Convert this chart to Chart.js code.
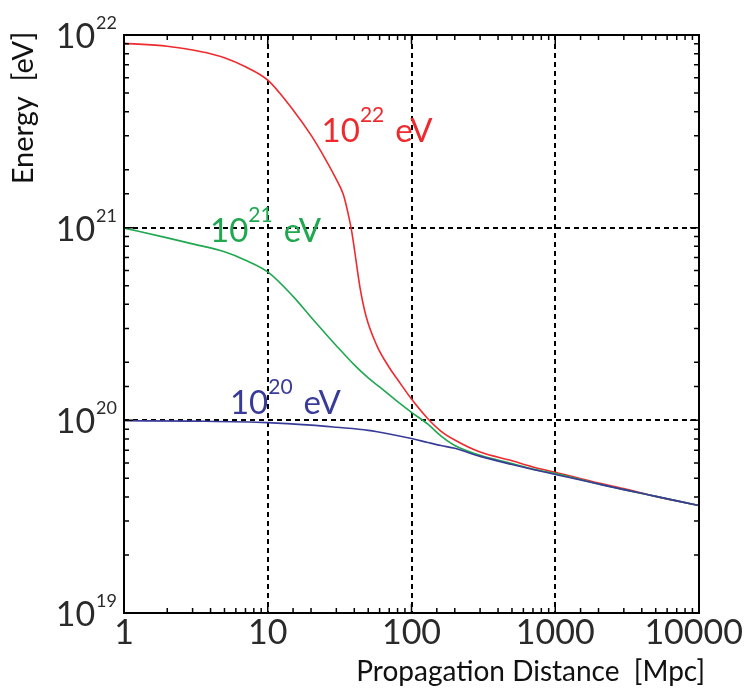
<!DOCTYPE html>
<html><head><meta charset="utf-8">
<script src="https://cdn.jsdelivr.net/npm/chart.js@4"></script>
<style>html,body{margin:0;padding:0;background:#fff;}#c{display:block;}</style>
</head><body>
<canvas id="c" width="745" height="689"></canvas>
<script>
// ---- data ----
const blueDistance = [1, 3, 10, 20, 30, 50, 70, 100, 130, 160, 200, 300, 500, 700, 1000, 2000, 3000, 5000, 10000];
const blueEnergy = [9.95e19, 9.9e19, 9.73e19, 9.44e19, 9.2e19, 8.87e19, 8.5e19, 8.04e19, 7.67e19, 7.4e19, 7.16e19, 6.5e19, 5.9e19, 5.56e19, 5.24e19, 4.67e19, 4.37e19, 4.03e19, 3.61e19];

const greenDistance = [1, 2, 3, 5, 7, 10, 15, 20, 25, 30, 40, 50, 60, 80, 100, 130, 160, 200, 300, 500, 700, 1000, 2000, 3000, 5000, 10000];
const greenEnergy = [9.95e20, 8.85e20, 8.24e20, 7.5e20, 6.78e20, 5.89e20, 4.4e20, 3.43e20, 2.84e20, 2.44e20, 1.94e20, 1.66e20, 1.49e20, 1.25e20, 1.10e20, 9.55e19, 8.3e19, 7.4e19, 6.58e19, 5.97e19, 5.58e19, 5.3e19, 4.67e19, 4.37e19, 4.03e19, 3.61e19];

const redDistance = [1, 2, 3, 4, 5, 7, 10, 15, 20, 25, 30, 33.6, 36.3, 38.4, 40.4, 43.8, 48.3, 57.3, 70, 80, 100, 130, 160, 200, 300, 500, 700, 1000, 2000, 3000, 5000, 10000];
const redEnergy = [9.05e21, 8.75e21, 8.36e21, 8.0e21, 7.62e21, 6.84e21, 5.83e21, 4.08e21, 3.02e21, 2.29e21, 1.78e21, 1.48e21, 1.175e21, 9.55e20, 7.41e20, 4.9e20, 3.47e20, 2.45e20, 1.88e20, 1.63e20, 1.29e20, 1.02e20, 8.8e19, 7.9e19, 6.84e19, 6.17e19, 5.73e19, 5.38e19, 4.73e19, 4.42e19, 4.03e19, 3.61e19];

const xTickLabels = ['1', '10', '100', '1000', '10000'];
const yTickExponents = ['19', '20', '21', '22'];
const seriesExponents = ['20', '21', '22'];
const seriesUnit = 'eV';
const xTitle = 'Propagation Distance  [Mpc]';
const yTitle = 'Energy  [eV]';

// ---- layout / style (not data) ----
const colors = ['#383c98', '#1fa84f', '#ee2a2f'];
const labelAnchors = [ {x: 5.46, y: 1.08e20}, {x: 3.97, y: 8.43e20}, {x: 23.7, y: 2.79e21} ];
const FONT = 'Lato, "Liberation Sans", sans-serif';
const f = (s) => 'normal ' + s + 'px ' + FONT;

function pairs(xs, ys) { return xs.map((v, i) => ({x: v, y: ys[i]})); }
function isDecade(v) { const l = Math.log10(v); return Math.abs(l - Math.round(l)) < 1e-9; }

const decor = {
  id: 'decor',
  afterDraw(chart) {
    const {ctx, chartArea: a, scales: {x, y}} = chart;
    ctx.save();
    // inward tick marks on all four sides
    ctx.strokeStyle = '#000';
    ctx.lineWidth = 1.5;
    ctx.beginPath();
    x.ticks.forEach(t => {
      const p = x.getPixelForValue(t.value);
      const len = isDecade(t.value) ? 9 : 5;
      ctx.moveTo(p, a.bottom); ctx.lineTo(p, a.bottom - len);
      ctx.moveTo(p, a.top); ctx.lineTo(p, a.top + len);
    });
    y.ticks.forEach(t => {
      const p = y.getPixelForValue(t.value);
      const len = isDecade(t.value) ? 9 : 5;
      ctx.moveTo(a.left, p); ctx.lineTo(a.left + len, p);
      ctx.moveTo(a.right, p); ctx.lineTo(a.right - len, p);
    });
    ctx.stroke();
    // frame
    ctx.lineWidth = 2;
    ctx.strokeRect(a.left, a.top, a.right - a.left, a.bottom - a.top);

    // x tick labels
    ctx.fillStyle = '#2a2a2a';
    ctx.font = f(34);
    ctx.textBaseline = 'alphabetic';
    ctx.textAlign = 'left';
    xTickLabels.forEach(lbl => {
      const p = x.getPixelForValue(Number(lbl));
      const w = ctx.measureText(lbl).width;
      let left = p - w / 2;
      if (left + w > chart.width - 2) left = chart.width - 2 - w;
      ctx.fillText(lbl, left, a.bottom + 31);
    });
    // y tick labels 10^n
    yTickExponents.forEach(e => {
      const p = y.getPixelForValue(Math.pow(10, Number(e)));
      ctx.font = f(18);
      const sw = ctx.measureText(e).width;
      const supLeft = a.left - 7 - sw;
      ctx.textAlign = 'left';
      ctx.fillText(e, supLeft, p + 13 - 19);
      ctx.font = f(34);
      ctx.textAlign = 'right';
      ctx.fillText('10', supLeft - 1, p + 13);
    });

    // series labels
    ctx.textAlign = 'left';
    seriesExponents.forEach((e, i) => {
      const px = x.getPixelForValue(labelAnchors[i].x);
      const py = y.getPixelForValue(labelAnchors[i].y);
      ctx.fillStyle = colors[i];
      ctx.font = f(33);
      const mw = ctx.measureText('10').width;
      ctx.fillText('10', px, py);
      ctx.font = f(21);
      const sw = ctx.measureText(e).width;
      ctx.fillText(e, px + mw, py - 20);
      ctx.font = f(33);
      ctx.fillText(seriesUnit, px + mw + sw + 11, py);
    });

    // axis titles
    ctx.fillStyle = '#111';
    ctx.font = f(28);
    ctx.textAlign = 'right';
    ctx.fillText(xTitle, 705, 681);
    ctx.save();
    ctx.translate(33, 108);
    ctx.rotate(-Math.PI / 2);
    ctx.textAlign = 'center';
    ctx.font = f(29);
    ctx.fillText(yTitle, 0, 0);
    ctx.restore();
    ctx.restore();
  }
};

function gridColor(ctx) {
  const v = ctx.tick && ctx.tick.value;
  const s = ctx.scale;
  if (v && isDecade(v) && v > s.min * 1.0001 && v < s.max / 1.0001) return '#000';
  return 'rgba(0,0,0,0)';
}

const common = { borderWidth: 1.6, pointRadius: 0, fill: false, cubicInterpolationMode: 'monotone' };
new Chart(document.getElementById('c'), {
  type: 'line',
  data: {
    datasets: [
      Object.assign({ data: pairs(blueDistance, blueEnergy), borderColor: colors[0] }, common),
      Object.assign({ data: pairs(greenDistance, greenEnergy), borderColor: colors[1] }, common),
      Object.assign({ data: pairs(redDistance, redEnergy), borderColor: colors[2] }, common)
    ]
  },
  options: {
    responsive: false,
    animation: false,
    devicePixelRatio: 1,
    layout: { padding: { left: 124, right: 46, top: 35, bottom: 76 } },
    plugins: { legend: { display: false }, tooltip: { enabled: false } },
    scales: {
      x: {
        type: 'logarithmic', min: 1, max: 10000,
        ticks: { display: false },
        grid: { drawTicks: false, color: gridColor, lineWidth: 2 },
        border: { display: false, dash: [5, 4] }
      },
      y: {
        type: 'logarithmic', min: 1e19, max: 1e22,
        ticks: { display: false },
        grid: { drawTicks: false, color: gridColor, lineWidth: 2 },
        border: { display: false, dash: [5, 4] }
      }
    }
  },
  plugins: [decor]
});
</script>
</body></html>
